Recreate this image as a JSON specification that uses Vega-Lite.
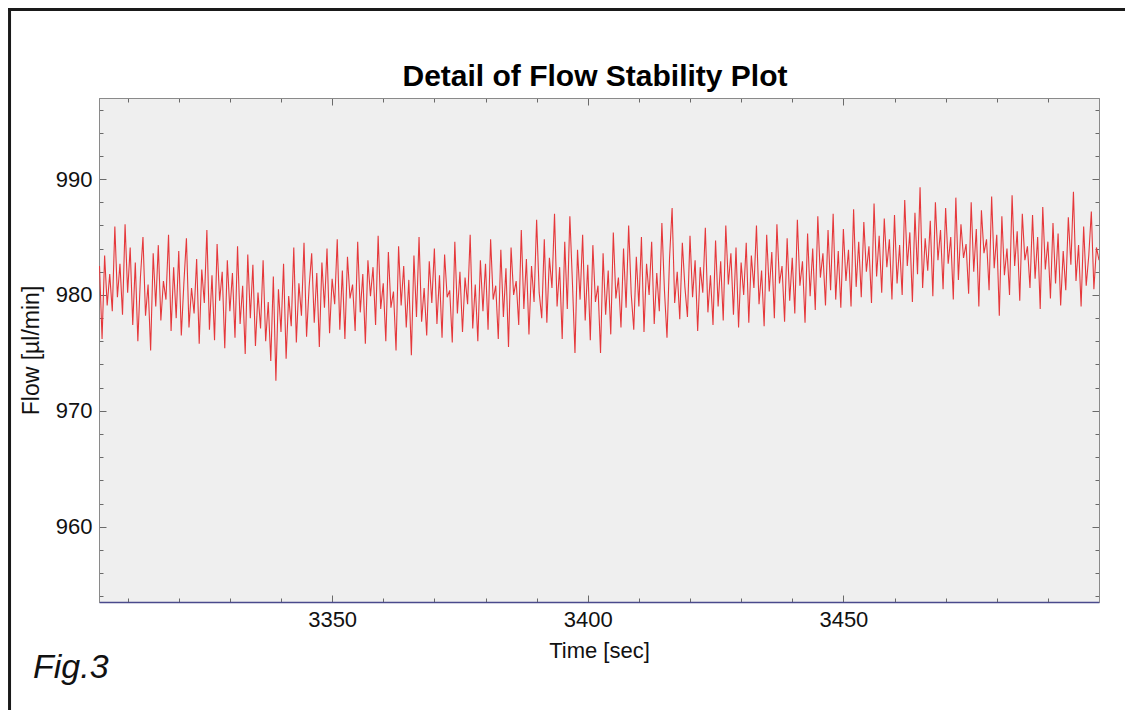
{
  "$schema": "https://vega.github.io/schema/vega-lite/v6.json",
  "width": 1000,
  "height": 504,
  "autosize": {"type": "none"},
  "padding": {"left": 99, "top": 98, "right": 26, "bottom": 108},
  "background": "white",
  "title": {"text": "Detail of Flow Stability Plot", "font": "Liberation Sans", "fontSize": 30, "fontWeight": "bold", "color": "#000000", "offset": -84, "anchor": "middle", "dx": -4},
  "config": {
    "view": {"fill": "#efefef", "stroke": "#8a8a8a", "strokeWidth": 1},
    "axis": {"grid": false, "labelFont": "Liberation Sans", "titleFont": "Liberation Sans", "labelColor": "#111111", "titleColor": "#111111", "titleFontWeight": "normal", "domainColor": "#8a8a8a", "tickColor": "#6a6a6a", "tickWidth": 1}
  },
  "datasets": {
    "flow": [
      {"t":3304.5,"f":982.5},{"t":3305,"f":976.2},{"t":3305.5,"f":983.4},{"t":3306,"f":979.1},{"t":3306.5,"f":981.8},{"t":3307,"f":978.6},{"t":3307.5,"f":985.9},{"t":3308,"f":979.8},{"t":3308.5,"f":982.7},{"t":3309,"f":978.3},{"t":3309.5,"f":986.1},
      {"t":3310,"f":980.2},{"t":3310.5,"f":984.1},{"t":3311,"f":977.4},{"t":3311.5,"f":982.8},{"t":3312,"f":976.0},{"t":3312.5,"f":981.5},{"t":3313,"f":985.0},{"t":3313.5,"f":978.2},{"t":3314,"f":980.9},{"t":3314.5,"f":975.2},{"t":3315,"f":983.6},{"t":3315.5,"f":979.0},{"t":3316,"f":984.3},{"t":3316.5,"f":977.8},{"t":3317,"f":981.2},{"t":3317.5,"f":979.6},{"t":3318,"f":985.2},{"t":3318.5,"f":976.9},{"t":3319,"f":982.4},{"t":3319.5,"f":978.0},
      {"t":3320,"f":983.8},{"t":3320.5,"f":976.5},{"t":3321,"f":981.0},{"t":3321.5,"f":984.9},{"t":3322,"f":977.2},{"t":3322.5,"f":980.6},{"t":3323,"f":978.4},{"t":3323.5,"f":983.1},{"t":3324,"f":975.8},{"t":3324.5,"f":982.2},{"t":3325,"f":979.3},{"t":3325.5,"f":985.6},{"t":3326,"f":977.0},{"t":3326.5,"f":981.7},{"t":3327,"f":976.1},{"t":3327.5,"f":984.4},{"t":3328,"f":979.5},{"t":3328.5,"f":982.0},{"t":3329,"f":975.4},{"t":3329.5,"f":983.0},
      {"t":3330,"f":978.6},{"t":3330.5,"f":981.9},{"t":3331,"f":976.3},{"t":3331.5,"f":984.2},{"t":3332,"f":977.5},{"t":3332.5,"f":980.8},{"t":3333,"f":974.9},{"t":3333.5,"f":983.5},{"t":3334,"f":978.0},{"t":3334.5,"f":982.6},{"t":3335,"f":975.6},{"t":3335.5,"f":980.2},{"t":3336,"f":977.1},{"t":3336.5,"f":983.0},{"t":3337,"f":976.0},{"t":3337.5,"f":979.4},{"t":3338,"f":974.3},{"t":3338.5,"f":981.6},{"t":3339,"f":972.6},{"t":3339.5,"f":980.5},
      {"t":3340,"f":976.8},{"t":3340.5,"f":982.7},{"t":3341,"f":974.5},{"t":3341.5,"f":979.9},{"t":3342,"f":977.3},{"t":3342.5,"f":984.1},{"t":3343,"f":975.9},{"t":3343.5,"f":981.0},{"t":3344,"f":978.2},{"t":3344.5,"f":984.5},{"t":3345,"f":976.4},{"t":3345.5,"f":980.7},{"t":3346,"f":983.6},{"t":3346.5,"f":977.6},{"t":3347,"f":981.9},{"t":3347.5,"f":975.5},{"t":3348,"f":982.8},{"t":3348.5,"f":978.9},{"t":3349,"f":984.0},{"t":3349.5,"f":976.7},
      {"t":3350,"f":981.4},{"t":3350.5,"f":979.2},{"t":3351,"f":984.8},{"t":3351.5,"f":977.0},{"t":3352,"f":982.1},{"t":3352.5,"f":976.2},{"t":3353,"f":983.3},{"t":3353.5,"f":979.7},{"t":3354,"f":980.9},{"t":3354.5,"f":976.9},{"t":3355,"f":984.6},{"t":3355.5,"f":978.5},{"t":3356,"f":981.8},{"t":3356.5,"f":975.8},{"t":3357,"f":983.0},{"t":3357.5,"f":979.9},{"t":3358,"f":982.4},{"t":3358.5,"f":977.4},{"t":3359,"f":985.1},{"t":3359.5,"f":978.8},
      {"t":3360,"f":981.0},{"t":3360.5,"f":976.0},{"t":3361,"f":983.7},{"t":3361.5,"f":978.9},{"t":3362,"f":980.3},{"t":3362.5,"f":975.2},{"t":3363,"f":984.2},{"t":3363.5,"f":979.1},{"t":3364,"f":982.5},{"t":3364.5,"f":977.2},{"t":3365,"f":981.3},{"t":3365.5,"f":974.8},{"t":3366,"f":983.4},{"t":3366.5,"f":978.1},{"t":3367,"f":985.0},{"t":3367.5,"f":977.7},{"t":3368,"f":980.6},{"t":3368.5,"f":976.5},{"t":3369,"f":982.9},{"t":3369.5,"f":979.3},
      {"t":3370,"f":984.0},{"t":3370.5,"f":977.5},{"t":3371,"f":981.7},{"t":3371.5,"f":976.3},{"t":3372,"f":983.5},{"t":3372.5,"f":979.8},{"t":3373,"f":980.4},{"t":3373.5,"f":975.9},{"t":3374,"f":984.6},{"t":3374.5,"f":978.4},{"t":3375,"f":982.0},{"t":3375.5,"f":976.8},{"t":3376,"f":981.5},{"t":3376.5,"f":979.2},{"t":3377,"f":985.2},{"t":3377.5,"f":977.1},{"t":3378,"f":980.9},{"t":3378.5,"f":976.0},{"t":3379,"f":983.0},{"t":3379.5,"f":978.6},
      {"t":3380,"f":982.7},{"t":3380.5,"f":977.0},{"t":3381,"f":984.8},{"t":3381.5,"f":979.6},{"t":3382,"f":980.8},{"t":3382.5,"f":976.2},{"t":3383,"f":983.9},{"t":3383.5,"f":978.1},{"t":3384,"f":982.3},{"t":3384.5,"f":975.5},{"t":3385,"f":984.1},{"t":3385.5,"f":980.0},{"t":3386,"f":981.2},{"t":3386.5,"f":977.4},{"t":3387,"f":985.6},{"t":3387.5,"f":978.8},{"t":3388,"f":983.1},{"t":3388.5,"f":976.6},{"t":3389,"f":982.5},{"t":3389.5,"f":979.4},
      {"t":3390,"f":986.5},{"t":3390.5,"f":980.2},{"t":3391,"f":978.0},{"t":3391.5,"f":984.8},{"t":3392,"f":977.6},{"t":3392.5,"f":983.2},{"t":3393,"f":980.6},{"t":3393.5,"f":987.0},{"t":3394,"f":979.0},{"t":3394.5,"f":982.4},{"t":3395,"f":976.2},{"t":3395.5,"f":984.6},{"t":3396,"f":978.8},{"t":3396.5,"f":986.8},{"t":3397,"f":981.1},{"t":3397.5,"f":975.0},{"t":3398,"f":983.9},{"t":3398.5,"f":979.6},{"t":3399,"f":985.2},{"t":3399.5,"f":977.8},
      {"t":3400,"f":982.6},{"t":3400.5,"f":976.1},{"t":3401,"f":984.3},{"t":3401.5,"f":979.4},{"t":3402,"f":980.8},{"t":3402.5,"f":975.0},{"t":3403,"f":983.6},{"t":3403.5,"f":978.3},{"t":3404,"f":982.1},{"t":3404.5,"f":976.6},{"t":3405,"f":985.4},{"t":3405.5,"f":979.7},{"t":3406,"f":981.5},{"t":3406.5,"f":977.2},{"t":3407,"f":984.0},{"t":3407.5,"f":978.9},{"t":3408,"f":986.0},{"t":3408.5,"f":980.1},{"t":3409,"f":977.0},{"t":3409.5,"f":983.3},
      {"t":3410,"f":979.0},{"t":3410.5,"f":985.0},{"t":3411,"f":976.8},{"t":3411.5,"f":982.7},{"t":3412,"f":980.0},{"t":3412.5,"f":984.6},{"t":3413,"f":977.5},{"t":3413.5,"f":981.9},{"t":3414,"f":978.6},{"t":3414.5,"f":986.2},{"t":3415,"f":980.4},{"t":3415.5,"f":976.3},{"t":3416,"f":983.2},{"t":3416.5,"f":987.5},{"t":3417,"f":979.3},{"t":3417.5,"f":982.0},{"t":3418,"f":977.9},{"t":3418.5,"f":984.5},{"t":3419,"f":980.7},{"t":3419.5,"f":978.1},
      {"t":3420,"f":985.1},{"t":3420.5,"f":979.8},{"t":3421,"f":983.0},{"t":3421.5,"f":976.9},{"t":3422,"f":982.4},{"t":3422.5,"f":980.2},{"t":3423,"f":985.8},{"t":3423.5,"f":978.5},{"t":3424,"f":981.7},{"t":3424.5,"f":977.4},{"t":3425,"f":984.7},{"t":3425.5,"f":979.0},{"t":3426,"f":982.9},{"t":3426.5,"f":977.8},{"t":3427,"f":986.0},{"t":3427.5,"f":980.9},{"t":3428,"f":983.6},{"t":3428.5,"f":978.3},{"t":3429,"f":984.1},{"t":3429.5,"f":977.2},
      {"t":3430,"f":982.8},{"t":3430.5,"f":980.0},{"t":3431,"f":984.5},{"t":3431.5,"f":977.6},{"t":3432,"f":983.4},{"t":3432.5,"f":980.6},{"t":3433,"f":986.0},{"t":3433.5,"f":979.2},{"t":3434,"f":982.1},{"t":3434.5,"f":977.3},{"t":3435,"f":985.2},{"t":3435.5,"f":980.3},{"t":3436,"f":983.7},{"t":3436.5,"f":978.0},{"t":3437,"f":986.1},{"t":3437.5,"f":981.0},{"t":3438,"f":982.5},{"t":3438.5,"f":977.7},{"t":3439,"f":984.9},{"t":3439.5,"f":979.5},
      {"t":3440,"f":983.2},{"t":3440.5,"f":978.4},{"t":3441,"f":986.5},{"t":3441.5,"f":980.8},{"t":3442,"f":982.9},{"t":3442.5,"f":977.6},{"t":3443,"f":985.3},{"t":3443.5,"f":979.9},{"t":3444,"f":984.0},{"t":3444.5,"f":978.7},{"t":3445,"f":986.8},{"t":3445.5,"f":981.5},{"t":3446,"f":983.6},{"t":3446.5,"f":979.1},{"t":3447,"f":985.6},{"t":3447.5,"f":980.4},{"t":3448,"f":987.0},{"t":3448.5,"f":979.6},{"t":3449,"f":983.8},{"t":3449.5,"f":978.9},
      {"t":3450,"f":985.7},{"t":3450.5,"f":981.2},{"t":3451,"f":983.9},{"t":3451.5,"f":979.0},{"t":3452,"f":987.4},{"t":3452.5,"f":980.7},{"t":3453,"f":984.6},{"t":3453.5,"f":979.8},{"t":3454,"f":986.3},{"t":3454.5,"f":982.0},{"t":3455,"f":984.2},{"t":3455.5,"f":979.3},{"t":3456,"f":987.9},{"t":3456.5,"f":981.6},{"t":3457,"f":985.1},{"t":3457.5,"f":980.2},{"t":3458,"f":986.6},{"t":3458.5,"f":982.4},{"t":3459,"f":984.8},{"t":3459.5,"f":979.6},
      {"t":3460,"f":986.9},{"t":3460.5,"f":981.0},{"t":3461,"f":984.3},{"t":3461.5,"f":980.0},{"t":3462,"f":988.2},{"t":3462.5,"f":982.5},{"t":3463,"f":985.4},{"t":3463.5,"f":979.4},{"t":3464,"f":987.1},{"t":3464.5,"f":981.8},{"t":3465,"f":989.3},{"t":3465.5,"f":980.6},{"t":3466,"f":984.9},{"t":3466.5,"f":982.1},{"t":3467,"f":986.4},{"t":3467.5,"f":979.9},{"t":3468,"f":988.0},{"t":3468.5,"f":983.0},{"t":3469,"f":985.6},{"t":3469.5,"f":980.5},
      {"t":3470,"f":987.5},{"t":3470.5,"f":982.7},{"t":3471,"f":985.0},{"t":3471.5,"f":979.6},{"t":3472,"f":988.4},{"t":3472.5,"f":981.3},{"t":3473,"f":986.1},{"t":3473.5,"f":983.2},{"t":3474,"f":984.4},{"t":3474.5,"f":980.1},{"t":3475,"f":988.0},{"t":3475.5,"f":982.0},{"t":3476,"f":985.7},{"t":3476.5,"f":979.0},{"t":3477,"f":987.3},{"t":3477.5,"f":983.6},{"t":3478,"f":984.8},{"t":3478.5,"f":980.4},{"t":3479,"f":988.5},{"t":3479.5,"f":982.3},
      {"t":3480,"f":985.2},{"t":3480.5,"f":978.2},{"t":3481,"f":986.8},{"t":3481.5,"f":981.7},{"t":3482,"f":984.0},{"t":3482.5,"f":980.0},{"t":3483,"f":988.6},{"t":3483.5,"f":982.5},{"t":3484,"f":985.5},{"t":3484.5,"f":979.5},{"t":3485,"f":987.0},{"t":3485.5,"f":983.0},{"t":3486,"f":984.2},{"t":3486.5,"f":980.6},{"t":3487,"f":986.9},{"t":3487.5,"f":981.4},{"t":3488,"f":985.0},{"t":3488.5,"f":978.8},{"t":3489,"f":987.6},{"t":3489.5,"f":982.2},
      {"t":3490,"f":984.6},{"t":3490.5,"f":979.7},{"t":3491,"f":986.2},{"t":3491.5,"f":981.0},{"t":3492,"f":985.3},{"t":3492.5,"f":979.1},{"t":3493,"f":983.8},{"t":3493.5,"f":980.4},{"t":3494,"f":986.7},{"t":3494.5,"f":982.6},{"t":3495,"f":988.9},{"t":3495.5,"f":981.2},{"t":3496,"f":984.3},{"t":3496.5,"f":979.0},{"t":3497,"f":985.9},{"t":3497.5,"f":980.8},{"t":3498,"f":983.4},{"t":3498.5,"f":987.2},{"t":3499,"f":980.5},{"t":3499.5,"f":984.1},
      {"t":3500,"f":983.0}
    ]
  },
  "layer": [
    {
      "data": {"name": "flow"},
      "mark": {"type": "line", "color": "#e5383b", "strokeWidth": 1.1, "clip": true},
      "encoding": {
        "x": {
          "field": "t", "type": "quantitative",
          "scale": {"domain": [3304.4, 3500], "nice": false, "zero": false},
          "axis": {
            "orient": "bottom",
            "values": [3310, 3320, 3330, 3340, 3350, 3360, 3370, 3380, 3390, 3400, 3410, 3420, 3430, 3440, 3450, 3460, 3470, 3480, 3490],
            "format": "d",
            "labelExpr": "datum.value % 50 === 0 ? datum.label : ''",
            "tickSize": {"condition": {"test": "datum.value % 50 === 0", "value": -7}, "value": -4},
            "labelPadding": 14,
            "labelFontSize": 22,
            "labelFlush": false,
            "title": "Time [sec]",
            "titleFontSize": 22,
            "titlePadding": 10,
            "domainColor": "#4a4a8c",
            "domainWidth": 1.5
          }
        },
        "y": {
          "field": "f", "type": "quantitative",
          "scale": {"domain": [953.5, 997], "nice": false, "zero": false},
          "axis": {
            "orient": "left",
            "values": [954, 956, 958, 960, 962, 964, 966, 968, 970, 972, 974, 976, 978, 980, 982, 984, 986, 988, 990, 992, 994, 996],
            "format": "d",
            "labelExpr": "datum.value % 10 === 0 ? datum.label : ''",
            "tickSize": {"condition": {"test": "datum.value % 10 === 0", "value": -7}, "value": -4},
            "labelPadding": 14,
            "labelFontSize": 22,
            "labelFlush": false,
            "title": "Flow [µl/min]",
            "titleFontSize": 23,
            "titlePadding": 12
          }
        }
      }
    },
    {
      "data": {"name": "flow"},
      "mark": {"type": "line", "strokeOpacity": 0},
      "encoding": {
        "x": {
          "field": "t", "type": "quantitative",
          "scale": {"domain": [3304.4, 3500], "nice": false, "zero": false},
          "axis": {
            "orient": "top",
            "values": [3310, 3320, 3330, 3340, 3350, 3360, 3370, 3380, 3390, 3400, 3410, 3420, 3430, 3440, 3450, 3460, 3470, 3480, 3490],
            "labels": false,
            "title": null,
            "tickSize": {"condition": {"test": "datum.value % 50 === 0", "value": -7}, "value": -4}
          }
        },
        "y": {
          "field": "f", "type": "quantitative",
          "scale": {"domain": [953.5, 997], "nice": false, "zero": false},
          "axis": {
            "orient": "right",
            "values": [954, 956, 958, 960, 962, 964, 966, 968, 970, 972, 974, 976, 978, 980, 982, 984, 986, 988, 990, 992, 994, 996],
            "labels": false,
            "title": null,
            "tickSize": {"condition": {"test": "datum.value % 10 === 0", "value": -7}, "value": -4}
          }
        }
      }
    },
    {
      "data": {"values": [{}]},
      "mark": {"type": "text", "text": "Fig.3", "font": "Liberation Sans", "fontSize": 34, "fontStyle": "italic", "align": "left", "baseline": "alphabetic", "color": "#111111", "clip": false},
      "encoding": {
        "x": {"datum": 3291.5, "type": "quantitative", "scale": {"domain": [3304.4, 3500], "nice": false, "zero": false}, "axis": null},
        "y": {"datum": 946.9, "type": "quantitative", "scale": {"domain": [953.5, 997], "nice": false, "zero": false}, "axis": null}
      }
    },
    {
      "data": {"values": [{}]},
      "mark": {"type": "rule", "color": "#1a1a1a", "strokeWidth": 3, "clip": false},
      "encoding": {
        "x": {"datum": 3286.9, "type": "quantitative", "scale": {"domain": [3304.4, 3500], "nice": false, "zero": false}, "axis": null},
        "y": {"datum": 1004.64, "type": "quantitative", "scale": {"domain": [953.5, 997], "nice": false, "zero": false}, "axis": null},
        "y2": {"datum": 940}
      }
    },
    {
      "data": {"values": [{}]},
      "mark": {"type": "rule", "color": "#1a1a1a", "strokeWidth": 3, "clip": false},
      "encoding": {
        "x": {"datum": 3286.6, "type": "quantitative", "scale": {"domain": [3304.4, 3500], "nice": false, "zero": false}, "axis": null},
        "x2": {"datum": 3510},
        "y": {"datum": 1004.64, "type": "quantitative", "scale": {"domain": [953.5, 997], "nice": false, "zero": false}, "axis": null}
      }
    }
  ],
  "resolve": {"axis": {"x": "independent", "y": "independent"}}
}
